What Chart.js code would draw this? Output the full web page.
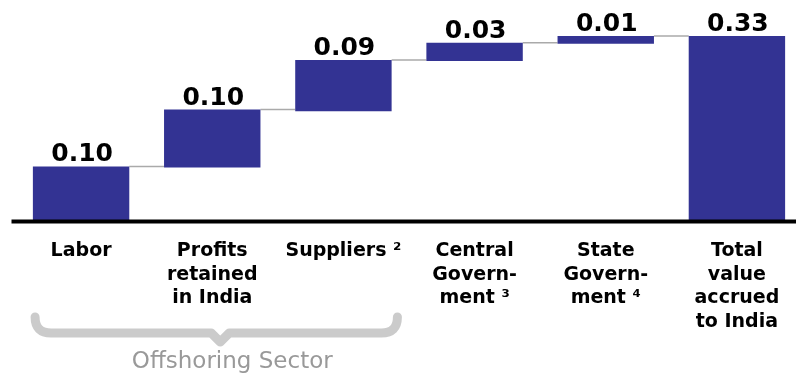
<!DOCTYPE html>
<html>
<head>
<meta charset="utf-8">
<script src="https://cdn.jsdelivr.net/npm/chart.js@4.4.0/dist/chart.umd.min.js"></script>
<style>
  html, body { margin: 0; padding: 0; background: #fff; overflow: hidden; }
  #wrap { position: relative; width: 808px; height: 386px; }
</style>
</head>
<body>
<div id="wrap"><canvas id="chart"></canvas></div>
<script>
const categories = [
  ["Labor"],
  ["Profits", "retained", "in India"],
  ["Suppliers \u00B2"],
  ["Central", "Govern-", "ment \u00B3"],
  ["State", "Govern-", "ment \u2074"],
  ["Total", "value", "accrued", "to India"],
];
const valueLabels = ["0.10", "0.10", "0.09", "0.03", "0.01", "0.33"];
// bar bottoms / tops
const barStart = [0, 0.094, 0.195, 0.285, 0.316, 0];
const barEnd = [0.096, 0.198, 0.287, 0.318, 0.33, 0.33];
const groupLabel = "Offshoring Sector";

const FONT = "'DejaVu Sans', sans-serif";
const BAR = "#333393";

const extras = {
  id: "extras",
  beforeDatasetsDraw(chart) {
    // grey step connectors between bars
    const { ctx } = chart;
    const bars = chart.getDatasetMeta(0).data;
    const y = chart.scales.y;
    ctx.save();
    ctx.strokeStyle = "#aaaaaa";
    ctx.lineWidth = 1.5;
    for (let i = 0; i < bars.length - 1; i++) {
      const yy = y.getPixelForValue(barEnd[i]);
      ctx.beginPath();
      ctx.moveTo(bars[i].x + bars[i].width / 2, yy);
      ctx.lineTo(bars[i + 1].x - bars[i + 1].width / 2, yy);
      ctx.stroke();
    }
    ctx.restore();
  },
  afterDatasetsDraw(chart) {
    const { ctx, chartArea } = chart;
    const bars = chart.getDatasetMeta(0).data;
    const x = chart.scales.x;
    const y0 = chart.scales.y.getPixelForValue(0);
    ctx.save();
    // value labels
    ctx.fillStyle = "#000";
    ctx.font = "bold 25px " + FONT;
    ctx.textAlign = "center";
    ctx.textBaseline = "alphabetic";
    bars.forEach((b, i) => ctx.fillText(valueLabels[i], b.x + 1, b.y - 5));

    // baseline
    ctx.strokeStyle = "#000";
    ctx.lineWidth = 4;
    ctx.beginPath();
    ctx.moveTo(chartArea.left - 4, y0 + 1.5);
    ctx.lineTo(chart.width, y0 + 1.5);
    ctx.stroke();

    // brace under the first three categories
    const l = x.getPixelForValue(0) - 46;
    const r = x.getPixelForValue(2) + 54;
    const m = x.getPixelForValue(1) + 8;
    const top = y0 + 97, mid = y0 + 113, tip = y0 + 126;
    ctx.strokeStyle = "#cbcbcb";
    ctx.lineWidth = 9;
    ctx.lineCap = "round";
    ctx.lineJoin = "round";
    ctx.beginPath();
    ctx.moveTo(l, top);
    ctx.quadraticCurveTo(l, mid, l + 16, mid);
    ctx.lineTo(m - 9, mid);
    ctx.lineTo(m, tip - 4);
    ctx.lineTo(m + 9, mid);
    ctx.lineTo(r - 16, mid);
    ctx.quadraticCurveTo(r, mid, r, top);
    ctx.stroke();

    ctx.fillStyle = "#999999";
    ctx.font = "23px " + FONT;
    ctx.fillText(groupLabel, x.getPixelForValue(1) + 20, y0 + 148);
    ctx.restore();
  },
};

new Chart(document.getElementById("chart"), {
  type: "bar",
  data: {
    labels: categories,
    datasets: [
      {
        data: barStart.map((s, i) => [s, barEnd[i]]),
        backgroundColor: BAR,
        borderWidth: 0,
        barPercentage: 0.735,
        categoryPercentage: 1,
      },
    ],
  },
  options: {
    responsive: true,
    maintainAspectRatio: false,
    animation: false,
    layout: { padding: { top: 19.3, left: 15.5, right: 5.5, bottom: 0 } },
    plugins: { legend: { display: false }, tooltip: { enabled: false } },
    scales: {
      x: {
        grid: { display: false, drawTicks: false },
        border: { display: false },
        ticks: {
          color: "#000",
          padding: 19,
          maxRotation: 0,
          autoSkip: false,
          font: { family: FONT, weight: "bold", size: 19, lineHeight: 1.25 },
        },
        afterFit: (s) => { s.height = 166; },
      },
      y: { display: false, min: 0, max: 0.36 },
    },
  },
  plugins: [extras],
});
</script>
</body>
</html>
